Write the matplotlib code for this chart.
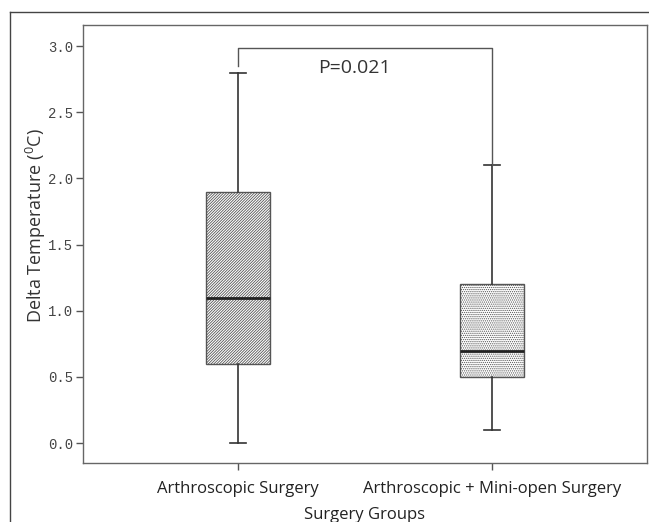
import matplotlib
matplotlib.use("Agg")
import matplotlib.pyplot as plt
from matplotlib.lines import Line2D

groups = ["Arthroscopic Surgery", "Arthroscopic + Mini-open Surgery"]
whislo = [0.0, 0.1]
q1 = [0.6, 0.5]
med = [1.1, 0.7]
q3 = [1.9, 1.2]
whishi = [2.8, 2.1]
hatches = ["////////////", "........"]
yticks = [0.0, 0.5, 1.0, 1.5, 2.0, 2.5, 3.0]
p_text = "P=0.021"

plt.rcParams["hatch.linewidth"] = 0.6
plt.rcParams["hatch.color"] = "#555555"

fig = plt.figure(figsize=(6.49, 5.22), dpi=100)
ax = fig.add_axes([83/649, 1-463/522, (647-83)/649, (463-25)/522])

stats = []
for i in range(len(groups)):
    stats.append(dict(whislo=whislo[i], q1=q1[i], med=med[i], q3=q3[i],
                      whishi=whishi[i], fliers=[], label=groups[i]))
pos = list(range(len(groups)))
res = ax.bxp(stats, positions=pos, widths=0.25, patch_artist=True,
             showfliers=False,
             boxprops=dict(facecolor="white", edgecolor="#555555", linewidth=1.0),
             medianprops=dict(color="#222222", linewidth=2.0),
             whiskerprops=dict(color="#333333", linewidth=1.2),
             capprops=dict(color="#333333", linewidth=1.2),
             capwidths=0.066)
for b, h in zip(res["boxes"], hatches):
    b.set_hatch(h)

ax.set_xlim(-0.61, 1.61)
ax.set_ylim(-0.15, 3.16)
ax.set_yticks(yticks)
ax.set_yticklabels([f"{v:.1f}" for v in yticks], family="Liberation Mono",
                   fontsize=10, color="#444444")
ax.set_xticks(pos)
ax.set_xticklabels(groups, family="Open Sans", fontsize=12, color="#222222")
ax.tick_params(axis="y", length=5, width=1, color="#555555", pad=2)
ax.tick_params(axis="x", length=5, width=1, color="#555555", pad=8)
for s in ax.spines.values():
    s.set_color("#666666")
    s.set_linewidth(1.0)

ax.set_ylabel("Delta Temperature ($\\mathregular{^0}$C)", family="Open Sans",
              fontsize=13, color="#333333")
ax.yaxis.set_label_coords(-0.062, 0.543)
ax.set_xlabel("Surgery Groups", family="Open Sans", fontsize=12,
              color="#222222", labelpad=7)

# significance bracket
yb = 2.985
ax.plot([pos[0], pos[0], pos[1], pos[1]], [2.85, yb, yb, whishi[1]],
        color="#555555", linewidth=1.0)
ax.text(0.46, 2.834, p_text, ha="center", va="center",
        family="Open Sans", fontsize=14, color="#333333")

# outer frame
fig.add_artist(Line2D([10/649, 10/649], [0, 1-12/522], transform=fig.transFigure,
                      color="#444444", linewidth=1.0))
fig.add_artist(Line2D([10/649, 1], [1-12/522, 1-12/522], transform=fig.transFigure,
                      color="#444444", linewidth=1.0))

fig.savefig("out.png", dpi=100)
